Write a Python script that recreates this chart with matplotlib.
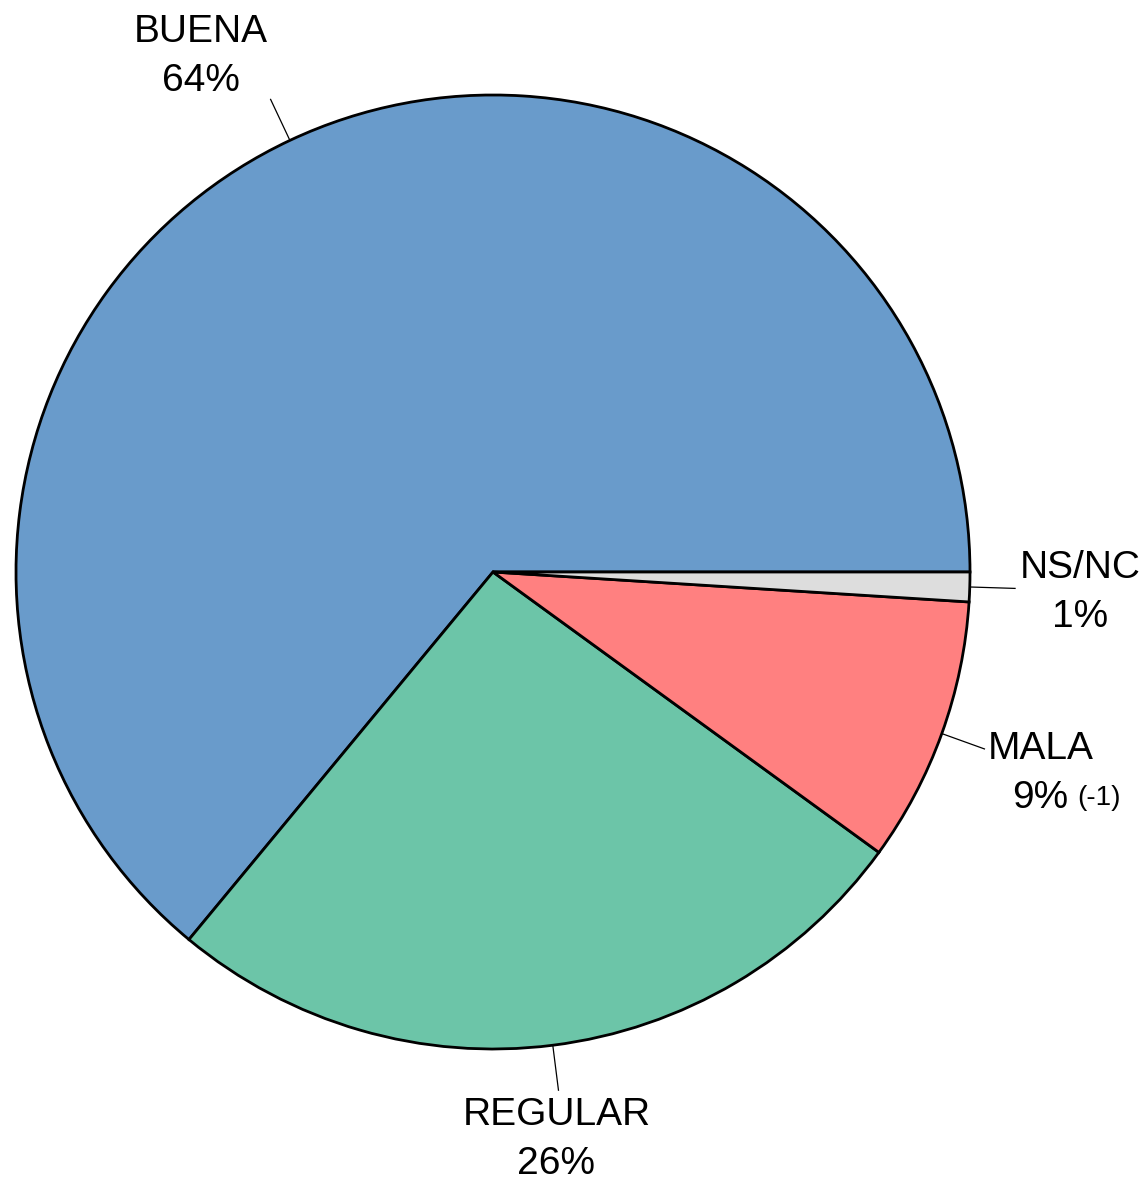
import numpy as np
import matplotlib.pyplot as plt

# datos del gráfico
categorias = ["BUENA", "REGULAR", "MALA", "NS/NC"]
valores = [64, 26, 9, 1]
etiquetas = ["64%", "26%", "9%", "1%"]
colores = ["#699BCB", "#6CC5A8", "#FF8080", "#DDDDDD"]
variacion = {"MALA": "(-1)"}


def main():
    plt.rcParams['font.family'] = ['Liberation Sans', 'DejaVu Sans']
    fig = plt.figure(figsize=(11.47, 11.81), dpi=100)
    ax = fig.add_axes([0, 0, 1, 1])

    cx, cy, r = 493, 609, 477
    wedges, _ = ax.pie(valores, colors=colores, startangle=0, counterclock=True,
                       center=(cx, cy), radius=r, frame=True,
                       wedgeprops=dict(edgecolor="black", linewidth=2))
    ax.set_xlim(0, 1147)
    ax.set_ylim(0, 1181)
    ax.axis("off")

    # desplazamiento del centro del texto respecto al final de la línea guía (px)
    offsets = {"BUENA": (-70, 45), "REGULAR": (-2, -47),
               "MALA": (56, -23), "NS/NC": (65, -2)}

    for w, cat, et in zip(wedges, categorias, etiquetas):
        ang = np.deg2rad((w.theta1 + w.theta2) / 2)
        x0, y0 = cx + r * np.cos(ang), cy + r * np.sin(ang)
        x1, y1 = cx + 1.095 * r * np.cos(ang), cy + 1.095 * r * np.sin(ang)
        ax.plot([x0, x1], [y0, y1], color="black", lw=0.9)
        dx, dy = offsets[cat]
        tx, ty = x1 + dx, y1 + dy
        ax.text(tx, ty + 22.5, cat, ha="center", va="center", fontsize=28)
        ax.text(tx, ty - 36.5, et, ha="center", va="baseline", fontsize=28)
        if cat in variacion:
            ax.text(tx + 37, ty - 33.5, variacion[cat], ha="left",
                    va="baseline", fontsize=20)

    fig.savefig("out.png", dpi=100)


if __name__ == "__main__":
    main()
